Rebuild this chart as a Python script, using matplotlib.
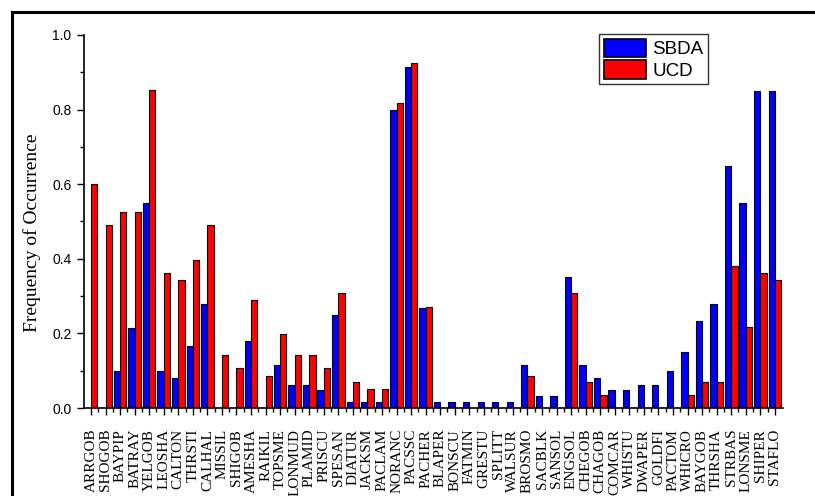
import numpy as np
import matplotlib
matplotlib.use("Agg")
import matplotlib.pyplot as plt
from matplotlib.patches import Rectangle
from matplotlib.ticker import MultipleLocator, FixedLocator

species = ["ARRGOB", "SHOGOB", "BAYPIP", "BATRAY", "YELGOB", "LEOSHA", "CALTON", "THRSTI",
           "CALHAL", "MISSIL", "SHIGOB", "AMESHA", "RAIKIL", "TOPSME", "LONMUD", "PLAMID",
           "PRISCU", "SPESAN", "DIATUR", "JACKSM", "PACLAM", "NORANC", "PACSSC", "PACHER",
           "BLAPER", "BONSCU", "FATMIN", "GRESTU", "SPLITT", "WALSUR", "BROSMO", "SACBLK",
           "SANSOL", "ENGSOL", "CHEGOB", "CHAGOB", "COMCAR", "WHISTU", "DWAPER", "GOLDFI",
           "PACTOM", "WHICRO", "BAYGOB", "THRSHA", "STRBAS", "LONSME", "SHIPER", "STAFLO"]

sbda = [0.0, 0.0, 0.10, 0.215, 0.55, 0.10, 0.08, 0.166,
        0.28, 0.0, 0.0, 0.18, 0.0, 0.115, 0.063, 0.063,
        0.048, 0.25, 0.015, 0.015, 0.015, 0.80, 0.915, 0.267,
        0.015, 0.015, 0.015, 0.015, 0.015, 0.015, 0.115, 0.031,
        0.031, 0.35, 0.114, 0.08, 0.048, 0.048, 0.062, 0.062,
        0.098, 0.15, 0.232, 0.28, 0.65, 0.549, 0.85, 0.85]

ucd = [0.60, 0.49, 0.525, 0.525, 0.852, 0.363, 0.342, 0.398,
       0.49, 0.142, 0.108, 0.29, 0.087, 0.198, 0.142, 0.142,
       0.108, 0.307, 0.07, 0.052, 0.052, 0.818, 0.925, 0.27,
       0.0, 0.0, 0.0, 0.0, 0.0, 0.0, 0.087, 0.0,
       0.0, 0.307, 0.07, 0.035, 0.0, 0.0, 0.0, 0.0,
       0.0, 0.035, 0.07, 0.07, 0.38, 0.218, 0.363, 0.342]

yticks = [0.0, 0.2, 0.4, 0.6, 0.8, 1.0]

W, H, DPI = 815, 496, 100
fig = plt.figure(figsize=(W / DPI, H / DPI), dpi=DPI)
ax = fig.add_axes([84 / W, 1 - 408 / H, (783 - 84) / W, (408 - 35) / H])

x = np.arange(len(species))
bw = 0.433
ax.bar(x - bw / 2, sbda, bw, color="#0000ff", edgecolor="black", linewidth=0.8, label="SBDA")
ax.bar(x + bw / 2, ucd, bw, color="#ff0000", edgecolor="black", linewidth=0.8, label="UCD")

ax.set_xlim(-0.48, 47.56)
ax.set_ylim(0, 1.0)

for side in ("top", "right"):
    ax.spines[side].set_visible(False)
for side in ("left", "bottom"):
    ax.spines[side].set_linewidth(1.2)

ax.set_xticks(x)
ax.set_xticklabels(species, rotation=90, fontfamily="Liberation Serif", fontsize=11)
ax.xaxis.set_minor_locator(FixedLocator(x[:-1] + 0.5))
ax.tick_params(axis="x", which="major", direction="out", length=5, width=1.0, pad=10)
ax.tick_params(axis="x", which="minor", direction="out", length=3, width=1.0)

ax.set_yticks(yticks)
ax.set_yticklabels([f"{v:.1f}" for v in yticks], fontfamily="Liberation Sans", fontsize=10)
ax.yaxis.set_minor_locator(MultipleLocator(0.1))
ax.tick_params(axis="y", which="major", direction="out", length=5, width=1.0, pad=4)
ax.tick_params(axis="y", which="minor", direction="out", length=3, width=1.0)

fig.text(32 / W, 1 - 233 / H, "Frequency of Occurrence", rotation=90,
         ha="center", va="center", fontfamily="Liberation Serif", fontsize=14)

leg = ax.legend(loc="upper left", bbox_to_anchor=(599 / W, 1 - 34 / H),
                bbox_transform=fig.transFigure, borderaxespad=0,
                prop={"family": "Liberation Sans", "size": 13.5},
                handlelength=2.28, handleheight=1.14, handletextpad=0.3,
                labelspacing=0.1, borderpad=0.25, fancybox=False, framealpha=1)
leg.get_frame().set_edgecolor("#333333")
leg.get_frame().set_linewidth(1.0)
for h in leg.legend_handles:
    h.set_linewidth(1.2)

# outer frame around the page
fig.add_artist(Rectangle((12 / W, -0.2), 1.2, 1.2 - 12 / H,
                         transform=fig.transFigure, fill=False,
                         edgecolor="black", linewidth=2.2, clip_on=False))

fig.savefig("out.png", dpi=DPI)
